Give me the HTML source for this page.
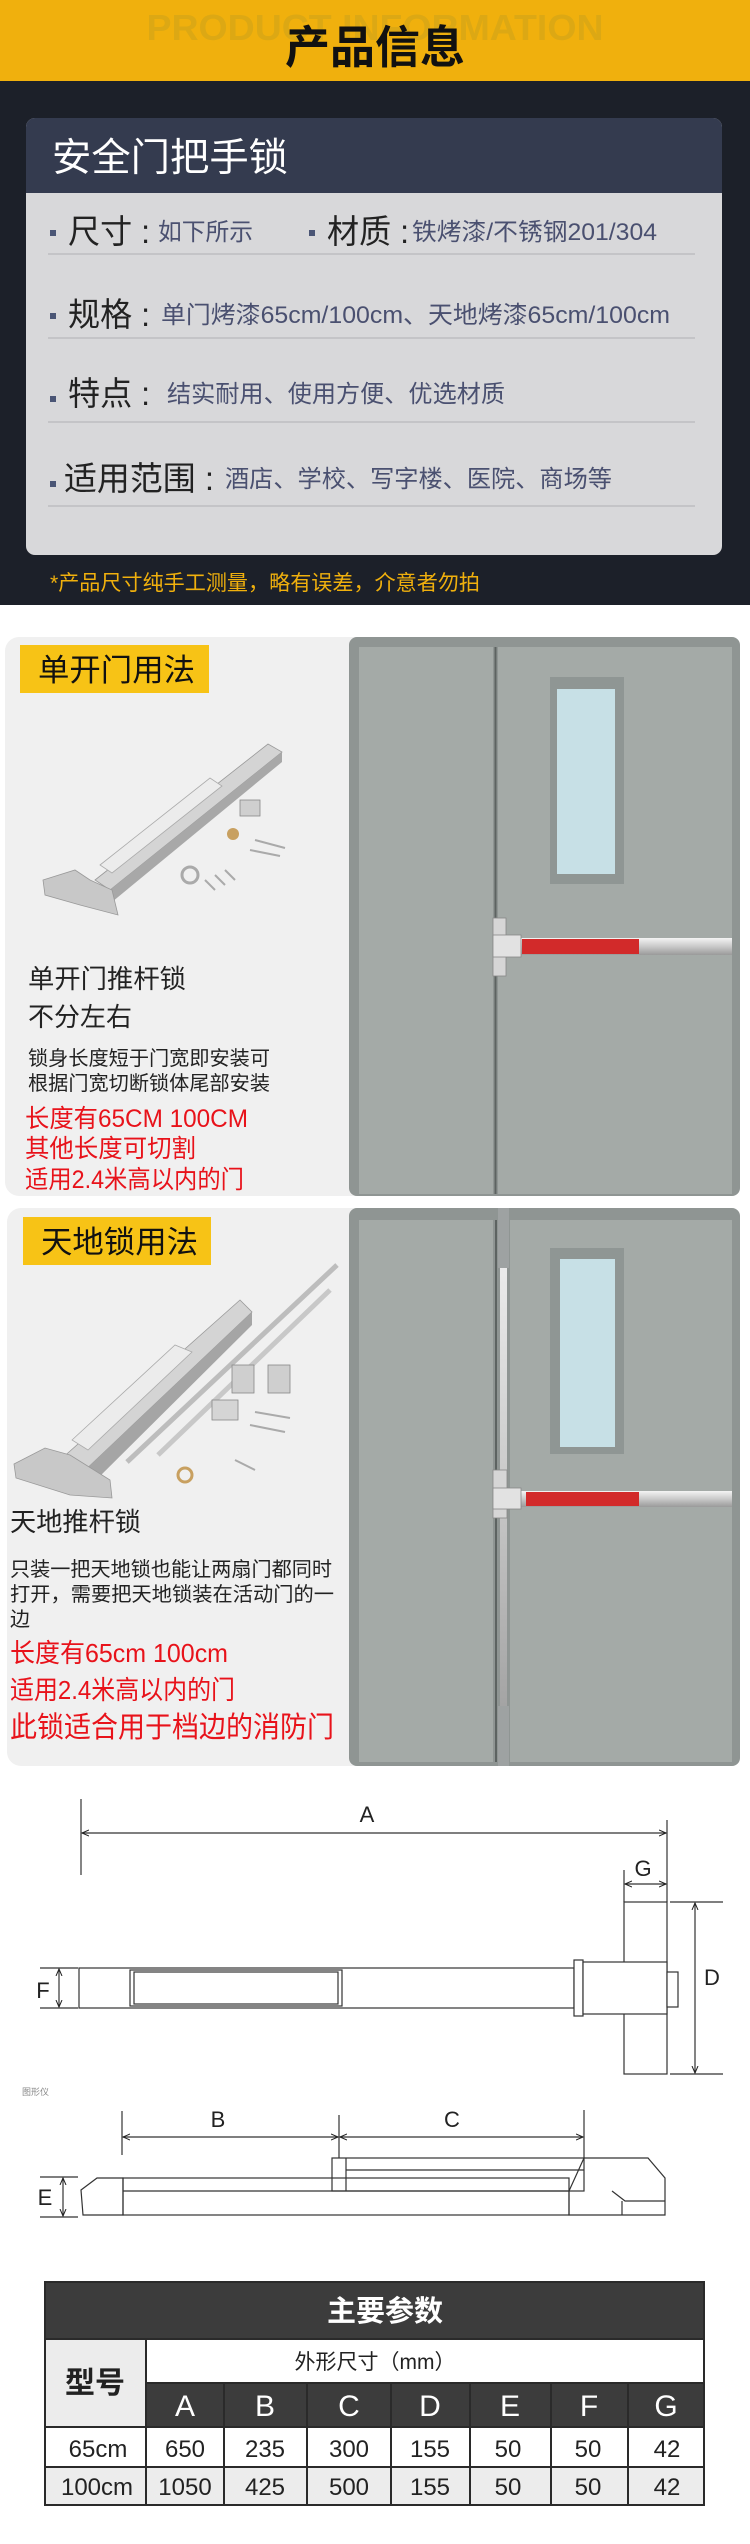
<!DOCTYPE html>
<html><head><meta charset="utf-8">
<style>
html,body{margin:0;padding:0;background:#fff;}
svg{display:block;}
text{font-family:"Liberation Sans","Noto Sans CJK SC",sans-serif;}
</style></head>
<body>
<svg width="750" height="2544" viewBox="0 0 750 2544" xmlns="http://www.w3.org/2000/svg">
<defs>
<linearGradient id="steel" x1="0" y1="0" x2="0" y2="1">
<stop offset="0" stop-color="#f4f4f4"/><stop offset="0.5" stop-color="#c9c9c9"/><stop offset="1" stop-color="#9a9a9a"/>
</linearGradient>
<marker id="ar" markerWidth="8" markerHeight="8" refX="7" refY="4" orient="auto-start-reverse" markerUnits="userSpaceOnUse">
<path d="M0,1 L7,4 L0,7" fill="none" stroke="#222" stroke-width="1"/>
</marker>
</defs>

<!-- HEADER -->
<rect x="0" y="0" width="750" height="81" fill="#f0b00d"/>
<text x="375" y="40" text-anchor="middle" font-size="36" font-weight="bold" fill="#dca814" textLength="457" lengthAdjust="spacingAndGlyphs">PRODUCT INFORMATION</text>
<text x="375" y="63" text-anchor="middle" font-size="45" font-weight="bold" fill="#111" font-family="'Noto Sans CJK SC',sans-serif">产品信息</text>

<!-- DARK INFO SECTION -->
<rect x="0" y="81" width="750" height="524" fill="#1c2029"/>
<rect x="26" y="118" width="696" height="437" rx="9" fill="#d8d8da"/>
<path d="M26,193 V127 a9,9 0 0 1 9,-9 H713 a9,9 0 0 1 9,9 V193 Z" fill="#343b4f"/>
<text x="52" y="171" font-size="39" fill="#fff" textLength="236" lengthAdjust="spacingAndGlyphs">安全门把手锁</text>

<g fill="#4a5575">
<rect x="50" y="230" width="6" height="6"/><rect x="309" y="230" width="6" height="6"/>
<rect x="50" y="313" width="6" height="6"/>
<rect x="50" y="396" width="6" height="6"/>
<rect x="50" y="481" width="6" height="6"/>
</g>
<g stroke="#b8b8bc" stroke-width="1.2">
<line x1="48" y1="254" x2="695" y2="254"/>
<line x1="48" y1="338" x2="695" y2="338"/>
<line x1="48" y1="422" x2="695" y2="422"/>
<line x1="48" y1="506" x2="695" y2="506"/>
</g>
<g font-size="33" fill="#222">
<text x="68" y="243" textLength="82" lengthAdjust="spacingAndGlyphs">尺寸 :</text>
<text x="327" y="243" textLength="82" lengthAdjust="spacingAndGlyphs">材质 :</text>
<text x="68" y="326" textLength="82" lengthAdjust="spacingAndGlyphs">规格 :</text>
<text x="68" y="405" textLength="82" lengthAdjust="spacingAndGlyphs">特点 :</text>
<text x="64" y="490" textLength="150" lengthAdjust="spacingAndGlyphs">适用范围 :</text>
</g>
<g font-size="24" fill="#4a5070">
<text x="158" y="240" textLength="95" lengthAdjust="spacingAndGlyphs">如下所示</text>
<text x="412" y="240" textLength="245" lengthAdjust="spacingAndGlyphs">铁烤漆/不锈钢201/304</text>
<text x="161" y="323" textLength="509" lengthAdjust="spacingAndGlyphs">单门烤漆65cm/100cm、天地烤漆65cm/100cm</text>
<text x="167" y="402" textLength="338" lengthAdjust="spacingAndGlyphs">结实耐用、使用方便、优选材质</text>
<text x="225" y="487" textLength="387" lengthAdjust="spacingAndGlyphs">酒店、学校、写字楼、医院、商场等</text>
</g>
<text x="50" y="590" font-size="21" fill="#f0b00d" textLength="430" lengthAdjust="spacingAndGlyphs">*产品尺寸纯手工测量，略有误差，介意者勿拍</text>

<!-- PANEL 1 -->
<rect x="5" y="637" width="370" height="559" rx="14" fill="#f0f0f0"/>
<rect x="349" y="637" width="391" height="559" rx="8" fill="#8f9593"/>
<rect x="359" y="647" width="134" height="547" fill="#a4aaa7"/>
<rect x="498" y="647" width="234" height="547" fill="#a4aaa7"/>
<line x1="495.5" y1="647" x2="495.5" y2="1194" stroke="#5d6361" stroke-width="2"/>
<rect x="550" y="677" width="74" height="207" fill="#8f9694"/>
<rect x="557" y="689" width="58" height="185" fill="#c7e0e6"/>
<rect x="506" y="938" width="226" height="17" fill="url(#steel)"/>
<rect x="522" y="939" width="117" height="15" fill="#d22a2a"/>
<rect x="493" y="918" width="13" height="58" fill="#d6d6d6" stroke="#888" stroke-width="0.8"/>
<rect x="493" y="935" width="28" height="22" fill="#e2e2e2" stroke="#888" stroke-width="0.8"/>

<rect x="20" y="645" width="189" height="48" fill="#f7c316"/>
<text x="38" y="681" font-size="31" fill="#111" textLength="157" lengthAdjust="spacingAndGlyphs">单开门用法</text>

<!-- product 1 -->
<g>
<polygon points="95,880 268,744 282,752 110,890" fill="#d4d4d4" stroke="#999" stroke-width="0.8"/>
<polygon points="110,890 282,752 282,762 112,902" fill="#a8a8a8"/>
<polygon points="100,865 210,778 222,786 112,873" fill="#ececec" stroke="#aaa" stroke-width="0.8"/>
<polygon points="43,880 75,870 90,880 112,890 118,915 80,905 45,895" fill="#c8c8c8" stroke="#999" stroke-width="0.8"/>
<rect x="240" y="800" width="20" height="16" fill="#cfcfcf" stroke="#888" stroke-width="0.8"/>
<circle cx="233" cy="834" r="6" fill="#c8a060"/>
<circle cx="190" cy="875" r="8" fill="none" stroke="#aaa" stroke-width="3"/>
<g stroke="#aaa" stroke-width="2"><line x1="205" y1="880" x2="215" y2="890"/><line x1="215" y1="875" x2="225" y2="885"/><line x1="225" y1="870" x2="235" y2="880"/><line x1="255" y1="840" x2="285" y2="848"/><line x1="250" y1="850" x2="280" y2="856"/></g>
</g>

<g font-size="26" fill="#222">
<text x="28" y="988" textLength="158" lengthAdjust="spacingAndGlyphs">单开门推杆锁</text>
<text x="28" y="1026" textLength="104" lengthAdjust="spacingAndGlyphs">不分左右</text>
</g>
<g font-size="20" fill="#222">
<text x="28" y="1065" textLength="242" lengthAdjust="spacingAndGlyphs">锁身长度短于门宽即安装可</text>
<text x="28" y="1090" textLength="242" lengthAdjust="spacingAndGlyphs">根据门宽切断锁体尾部安装</text>
</g>
<g font-size="25" fill="#e8121a">
<text x="25" y="1127" textLength="223" lengthAdjust="spacingAndGlyphs">长度有65CM 100CM</text>
<text x="25" y="1157" textLength="171" lengthAdjust="spacingAndGlyphs">其他长度可切割</text>
<text x="25" y="1188" textLength="219" lengthAdjust="spacingAndGlyphs">适用2.4米高以内的门</text>
</g>

<!-- PANEL 2 -->
<rect x="7" y="1208" width="368" height="558" rx="14" fill="#f0f0f0"/>
<rect x="349" y="1208" width="391" height="558" rx="8" fill="#8f9593"/>
<rect x="359" y="1220" width="134" height="542" fill="#a4aaa7"/>
<rect x="510" y="1220" width="222" height="542" fill="#a4aaa7"/>
<line x1="496" y1="1220" x2="496" y2="1762" stroke="#5d6361" stroke-width="2"/>
<rect x="500" y="1208" width="7" height="558" fill="url(#steel)"/>
<rect x="498" y="1208" width="11" height="60" fill="#9ea2a2"/>
<rect x="498" y="1706" width="11" height="60" fill="#9ea2a2"/>
<rect x="550" y="1248" width="74" height="206" fill="#8f9694"/>
<rect x="560" y="1259" width="55" height="188" fill="#c7e0e6"/>
<rect x="507" y="1491" width="225" height="16" fill="url(#steel)"/>
<rect x="526" y="1492" width="113" height="14" fill="#d22a2a"/>
<rect x="493" y="1470" width="14" height="48" fill="#d6d6d6" stroke="#888" stroke-width="0.8"/>
<rect x="493" y="1488" width="28" height="21" fill="#e2e2e2" stroke="#888" stroke-width="0.8"/>

<rect x="23" y="1217" width="188" height="48" fill="#f7c316"/>
<text x="41" y="1253" font-size="31" fill="#111" textLength="157" lengthAdjust="spacingAndGlyphs">天地锁用法</text>

<!-- product 2 -->
<g>
<line x1="127" y1="1462" x2="337" y2="1265" stroke="#bdbdbd" stroke-width="5"/>
<line x1="158" y1="1455" x2="330" y2="1290" stroke="#c8c8c8" stroke-width="5"/>
<polygon points="60,1460 240,1300 252,1312 80,1475" fill="#d4d4d4" stroke="#999" stroke-width="0.8"/>
<polygon points="80,1475 252,1312 252,1325 88,1488" fill="#a5a5a5"/>
<polygon points="72,1440 175,1345 192,1352 88,1450" fill="#ececec" stroke="#aaa" stroke-width="0.8"/>
<polygon points="14,1464 45,1448 70,1455 110,1480 112,1498 70,1495 16,1478" fill="#c8c8c8" stroke="#999" stroke-width="0.8"/>
<rect x="232" y="1365" width="22" height="28" fill="#cfcfcf" stroke="#888" stroke-width="0.8"/>
<rect x="268" y="1365" width="22" height="28" fill="#cfcfcf" stroke="#888" stroke-width="0.8"/>
<rect x="212" y="1400" width="26" height="20" fill="#d5d5d5" stroke="#888" stroke-width="0.8"/>
<circle cx="185" cy="1475" r="7" fill="none" stroke="#c8a060" stroke-width="3"/>
<g stroke="#aaa" stroke-width="2"><line x1="255" y1="1412" x2="290" y2="1418"/><line x1="250" y1="1425" x2="285" y2="1432"/><line x1="235" y1="1460" x2="255" y2="1470"/></g>
</g>

<text x="10" y="1531" font-size="26" fill="#222" textLength="131" lengthAdjust="spacingAndGlyphs">天地推杆锁</text>
<g font-size="20" fill="#222">
<text x="10" y="1576" textLength="322" lengthAdjust="spacingAndGlyphs">只装一把天地锁也能让两扇门都同时</text>
<text x="10" y="1601" textLength="324" lengthAdjust="spacingAndGlyphs">打开，需要把天地锁装在活动门的一</text>
<text x="10" y="1626">边</text>
</g>
<g fill="#e8121a">
<text x="10" y="1662" font-size="26" textLength="218" lengthAdjust="spacingAndGlyphs">长度有65cm 100cm</text>
<text x="10" y="1699" font-size="26" textLength="225" lengthAdjust="spacingAndGlyphs">适用2.4米高以内的门</text>
<text x="10" y="1737" font-size="29" textLength="324" lengthAdjust="spacingAndGlyphs">此锁适合用于档边的消防门</text>
</g>

<!-- DIMENSION DIAGRAM -->
<g stroke="#333" stroke-width="1.2" fill="none">
<line x1="81" y1="1799" x2="81" y2="1875"/>
<line x1="667" y1="1820" x2="667" y2="1902"/>
<line x1="82" y1="1833" x2="666" y2="1833" marker-start="url(#ar)" marker-end="url(#ar)"/>
<line x1="624" y1="1870" x2="624" y2="1902"/>
<line x1="625" y1="1884" x2="666" y2="1884" marker-start="url(#ar)" marker-end="url(#ar)"/>
<line x1="670" y1="1902" x2="723" y2="1902"/>
<line x1="670" y1="2074" x2="723" y2="2074"/>
<line x1="695" y1="1903" x2="695" y2="2073" marker-start="url(#ar)" marker-end="url(#ar)"/>
<rect x="624" y="1902" width="43" height="172" fill="#fff"/>
<rect x="79" y="1968" width="495" height="40" fill="#fff"/>
<rect x="130" y="1970" width="212" height="36"/>
<rect x="134" y="1972" width="204" height="32"/>
<rect x="574" y="1960" width="9" height="56" fill="#fff"/>
<rect x="583" y="1962" width="84" height="52" fill="#fff"/>
<rect x="667" y="1972" width="11" height="35" fill="#fff"/>
<line x1="40" y1="1968" x2="78" y2="1968"/>
<line x1="40" y1="2008" x2="78" y2="2008"/>
<line x1="59" y1="1969" x2="59" y2="2007" marker-start="url(#ar)" marker-end="url(#ar)"/>

<line x1="122" y1="2111" x2="122" y2="2155"/>
<line x1="339" y1="2115" x2="339" y2="2158"/>
<line x1="584" y1="2110" x2="584" y2="2158"/>
<line x1="123" y1="2137" x2="338" y2="2137" marker-start="url(#ar)" marker-end="url(#ar)"/>
<line x1="340" y1="2137" x2="583" y2="2137" marker-start="url(#ar)" marker-end="url(#ar)"/>
<polygon points="81,2190 97,2178 123,2178 123,2215 83,2215"/>
<rect x="123" y="2178" width="446" height="37"/>
<line x1="123" y1="2191" x2="569" y2="2191"/>
<rect x="332" y="2158" width="252" height="33"/>
<line x1="346" y1="2170" x2="584" y2="2170"/>
<line x1="346" y1="2158" x2="346" y2="2191"/>
<polygon points="584,2158 648,2158 665,2178 665,2215 569,2215 569,2191"/>
<polyline points="612,2191 625,2201 665,2201"/>
<line x1="622" y1="2201" x2="622" y2="2215"/>
<line x1="40" y1="2177" x2="78" y2="2177"/>
<line x1="40" y1="2217" x2="78" y2="2217"/>
<line x1="63" y1="2178" x2="63" y2="2216" marker-start="url(#ar)" marker-end="url(#ar)"/>
</g>
<g font-size="22" fill="#222" text-anchor="middle">
<text x="367" y="1822">A</text>
<text x="643" y="1876">G</text>
<text x="712" y="1985">D</text>
<text x="43" y="1998">F</text>
<text x="218" y="2127">B</text>
<text x="452" y="2127">C</text>
<text x="45" y="2205">E</text>
</g>
<text x="22" y="2095" font-size="9" fill="#888">图形仪</text>

<!-- TABLE -->
<rect x="45" y="2282" width="659" height="57" fill="#3c3c3c"/>
<text x="385" y="2321" text-anchor="middle" font-size="29" font-weight="bold" fill="#fff">主要参数</text>
<rect x="45" y="2339" width="101" height="88" fill="#ececec"/>
<rect x="146" y="2339" width="558" height="44" fill="#fff"/>
<text x="375" y="2369" text-anchor="middle" font-size="21" fill="#222">外形尺寸（mm）</text>
<rect x="146" y="2383" width="558" height="44" fill="#3c3c3c"/>
<rect x="45" y="2427" width="659" height="40" fill="#fff"/>
<rect x="45" y="2467" width="659" height="38" fill="#ececec"/>
<text x="95" y="2393" text-anchor="middle" font-size="30" font-weight="bold" fill="#222">型号</text>
<g stroke="#2a2a2a" stroke-width="2" fill="none">
<rect x="45" y="2282" width="659" height="223"/>
<line x1="45" y1="2339" x2="704" y2="2339"/>
<line x1="146" y1="2383" x2="704" y2="2383"/>
<line x1="45" y1="2427" x2="704" y2="2427"/>
<line x1="45" y1="2467" x2="704" y2="2467"/>
<line x1="146" y1="2339" x2="146" y2="2505"/>
<line x1="224" y1="2383" x2="224" y2="2505"/>
<line x1="307" y1="2383" x2="307" y2="2505"/>
<line x1="391" y1="2383" x2="391" y2="2505"/>
<line x1="470" y1="2383" x2="470" y2="2505"/>
<line x1="551" y1="2383" x2="551" y2="2505"/>
<line x1="628" y1="2383" x2="628" y2="2505"/>
</g>
<g font-size="30" fill="#fff" text-anchor="middle">
<text x="185" y="2416">A</text><text x="265" y="2416">B</text><text x="349" y="2416">C</text><text x="430" y="2416">D</text><text x="510" y="2416">E</text><text x="589" y="2416">F</text><text x="666" y="2416">G</text>
</g>
<g font-size="24" fill="#222" text-anchor="middle">
<text x="98" y="2457">65cm</text><text x="185" y="2457">650</text><text x="265" y="2457">235</text><text x="349" y="2457">300</text><text x="430" y="2457">155</text><text x="508" y="2457">50</text><text x="588" y="2457">50</text><text x="667" y="2457">42</text>
<text x="97" y="2495">100cm</text><text x="185" y="2495">1050</text><text x="265" y="2495">425</text><text x="349" y="2495">500</text><text x="430" y="2495">155</text><text x="508" y="2495">50</text><text x="588" y="2495">50</text><text x="667" y="2495">42</text>
</g>
</svg>
</body></html>
